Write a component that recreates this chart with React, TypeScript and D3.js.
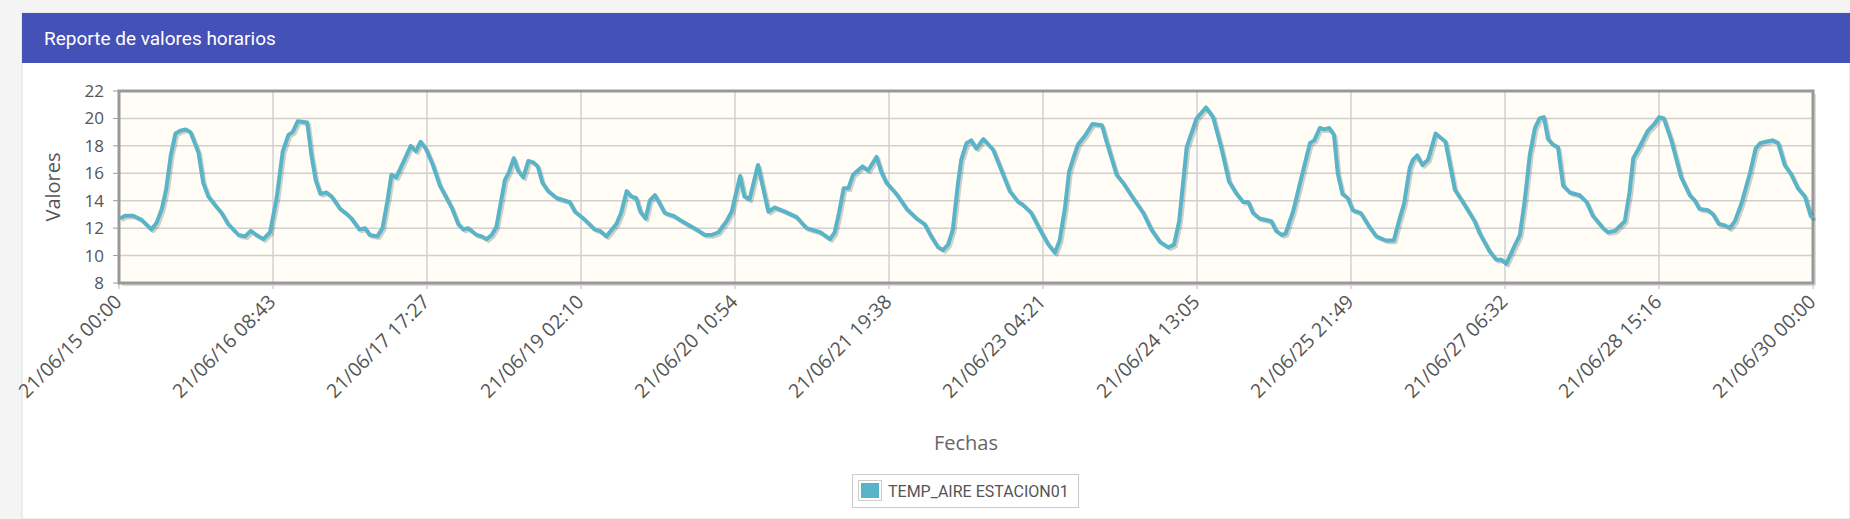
import React, { useEffect } from "react";
import * as d3 from "d3";

// hours since 21/06/15 00:00 and air temperature
const hours: number[] = [
  0.2, 1.3, 3, 4.8, 6.9, 8, 9.1, 10, 11, 12, 13, 14.2, 15.2, 16.9, 17.9, 19, 20.6, 21.8, 23.2, 25.4, 26.8, 28, 29.2, 30.7,
  32.1, 33.5, 34.8, 36, 36.9, 38, 40, 40.9, 41.8, 42.8, 44.1, 45.2, 47, 48.5, 49.4, 51.1, 52.3, 53.3, 54.9, 56, 57, 57.9,
  58.9, 60.4, 62, 63.1, 64.1, 65.2, 66.6, 68.2, 69.3, 70.7, 72.1, 73.2, 74.2, 76, 77.1, 78.1, 79.2, 80.2, 82, 82.9, 83.9,
  84.8, 85.9, 87, 88, 89, 90, 91.2, 93, 95.8, 96.9, 98.7, 101.1, 102.2, 103.6, 105.7, 106.7, 107.9, 108.9, 109.9, 110.8,
  111.9, 112.8, 113.9, 114.9, 116, 117.8, 119.2, 122.7, 124.5, 125.9, 127.4, 129.1, 130.2, 132, 132.9, 134, 135.8, 138,
  139.4, 141.5, 144, 146.1, 149, 151.1, 152.1, 153, 154, 155, 156, 158, 159.2, 161, 162, 163.1, 165.2, 167.4, 169.5,
  171.2, 172.6, 174.1, 175.1, 176.2, 177.2, 178.3, 179, 180.1, 181.1, 182.2, 183.7, 185.8, 187.9, 189.3, 191.1, 192.1,
  193.9, 195.7, 197.5, 198.9, 199.9, 201, 201.9, 202.9, 203.8, 205.2, 206.9, 208.9, 209.8, 212, 213.4, 215.5, 217.7,
  219.4, 221.2, 223, 224.2, 225.3, 226.9, 229, 231, 232.5, 234.3, 235.9, 237.5, 238.9, 240, 241, 242.4, 244.9, 245.9,
  247.1, 247.9, 249.5, 251.5, 253.1, 254, 255.2, 256.2, 257.2, 258.2, 259, 260, 261.1, 262.2, 263.9, 265.7, 267.2, 269.2,
  270.9, 272, 273.1, 274.3, 275, 275.9, 277, 278.2, 279.8, 281.9, 283.9, 285.6, 288.1, 289.2, 291.3, 292.7, 293.8, 294.8,
  296.3, 297.7, 298.7, 299.8, 300.9, 301.9, 302.8, 303.7, 304.7, 305.8, 306.9, 308.3, 310.4, 311.9, 313.2, 315.4, 316.4,
  317.9, 320, 321, 321.8, 323.1, 324.9, 326.3, 327.3, 328.3, 329.9, 332, 333.8, 334.9, 335.9, 337.7, 338.8, 340, 341.3,
  342.3, 343.4, 344.8, 346.6, 347.8, 348.8, 350, 351.4, 352.6, 354, 355.4, 356.8, 358.3, 359.5, 360,
];
const temps: number[] = [
  12.7, 12.9, 12.9, 12.6, 11.9, 12.4, 13.4, 14.8, 17.3, 18.9, 19.1, 19.2, 19.0, 17.5, 15.3, 14.3, 13.6, 13.1, 12.3, 11.5, 11.4, 11.8, 11.5, 11.2,
  11.7, 14.2, 17.6, 18.8, 19.0, 19.8, 19.7, 17.3, 15.5, 14.5, 14.6, 14.3, 13.4, 13.0, 12.7, 11.9, 12.0, 11.5, 11.4, 12.0, 13.9, 15.9,
  15.7, 16.8, 18.0, 17.6, 18.3, 17.8, 16.7, 15.1, 14.4, 13.5, 12.3, 11.9, 12.0, 11.5, 11.4, 11.2, 11.5, 12.1, 15.5, 16.1, 17.1,
  16.2, 15.7, 16.9, 16.8, 16.5, 15.3, 14.7, 14.2, 13.9, 13.2, 12.7, 11.9, 11.8, 11.4, 12.3, 13.1, 14.7, 14.3, 14.2, 13.2,
  12.7, 14.0, 14.4, 13.8, 13.1, 12.9, 12.6, 11.9, 11.5, 11.5, 11.7, 12.5, 13.2, 15.8, 14.3, 14.1, 16.6, 13.2,
  13.5, 13.2, 12.8, 12.0, 11.7, 11.2, 11.7, 13.1, 14.9, 14.9, 15.9, 16.5, 16.2, 17.2, 16.1, 15.3, 14.5, 13.4, 12.7,
  12.3, 11.4, 10.6, 10.4, 10.8, 11.9, 15.3, 17.0, 18.2, 18.4, 17.8, 18.5, 17.7, 15.9, 14.7, 13.9, 13.7,
  13.1, 11.9, 10.8, 10.2, 11.1, 13.4, 16.1, 17.2, 18.1, 18.7, 19.6, 19.5, 18.4, 15.9, 15.3, 14.2, 13.1,
  11.9, 11.0, 10.6, 10.8, 12.5, 17.9, 20.0, 20.8, 20.1, 17.8, 15.4, 14.5, 13.9, 13.9, 13.1, 12.7, 12.5, 11.8,
  11.5, 11.6, 13.2, 16.0, 18.2, 18.4, 19.3, 19.2, 19.3, 18.8, 16.0, 14.5, 14.2, 13.3, 13.1, 12.1, 11.4, 11.1,
  11.1, 12.5, 13.8, 16.4, 17.0, 17.3, 16.6, 17.0, 18.9, 18.3, 14.8, 13.9, 12.5, 11.6, 10.3, 9.7, 9.7, 9.4,
  10.5, 11.5, 13.9, 17.3, 19.3, 20.0, 20.1, 18.5, 18.1, 17.9, 15.1, 14.6, 14.4, 13.9, 12.9, 12.0, 11.7,
  11.8, 12.5, 14.6, 17.1, 17.9, 19.1, 19.6, 20.1, 20.0, 18.4, 15.7, 14.4, 14.0, 13.4, 13.3, 13.0, 12.3, 12.2,
  12.0, 12.5, 13.8, 16.0, 17.8, 18.2, 18.3, 18.4, 18.2, 16.6, 15.9, 14.9, 14.3, 12.9, 12.7,
];
const yTicks: number[] = [8, 10, 12, 14, 16, 18, 20, 22];
const xTickLabels: string[] = [
  "21/06/15 00:00", "21/06/16 08:43", "21/06/17 17:27", "21/06/19 02:10", "21/06/20 10:54", "21/06/21 19:38",
  "21/06/23 04:21", "21/06/24 13:05", "21/06/25 21:49", "21/06/27 06:32", "21/06/28 15:16", "21/06/30 00:00",
];
const seriesName = "TEMP_AIRE ESTACION01";

const W = 1850;
const H = 519;
const margin = { left: 119, right: 37, top: 91, bottom: 236 };
const font = "'Open Sans', 'Noto Sans', sans-serif";

const App: React.FC = () => {
  useEffect(() => {
    document.body.style.margin = "0";
  }, []);

  const x = d3.scaleLinear().domain([0, 360]).range([margin.left, W - margin.right]);
  const y = d3.scaleLinear().domain([8, 22]).range([H - margin.bottom, margin.top]);
  const pts = hours.map((h, i) => [h, temps[i]] as [number, number]);
  const line = d3
    .line<[number, number]>()
    .x((d) => x(d[0]))
    .y((d) => y(d[1]));
  const path = line(pts) ?? "";
  const step = 360 / (xTickLabels.length - 1);
  const pw = W - margin.left - margin.right;
  const ph = H - margin.top - margin.bottom;

  return (
    <svg width={W} height={H} style={{ display: "block", background: "#f4f4f4" }}>
      <rect x={22} y={13} width={W - 22} height={H - 13} fill="#fff" stroke="#ddd" />
      <rect x={22} y={13} width={W - 22} height={50} fill="#4451b6" />
      <text x={44} y={45} fill="#fff" fontFamily="Roboto, sans-serif" fontSize={19}>
        Reporte de valores horarios
      </text>

      <rect x={margin.left + 3} y={margin.top + 3} width={pw} height={ph} fill="#ddd" />
      <rect x={margin.left} y={margin.top} width={pw} height={ph} fill="#fffdf6" />
      {yTicks.map((t) => (
        <g key={t}>
          <line x1={margin.left} x2={W - margin.right} y1={y(t)} y2={y(t)} stroke="#d0d0d0" strokeWidth={1.5} />
          <line x1={margin.left - 6} x2={margin.left} y1={y(t)} y2={y(t)} stroke="#999" />
          <text x={104} y={y(t)} dy="0.35em" textAnchor="end" fill="#555" fontFamily={font} fontSize={17}>
            {t}
          </text>
        </g>
      ))}
      {xTickLabels.map((lab, i) => {
        const xx = x(i * step);
        return (
          <g key={lab}>
            <line x1={xx} x2={xx} y1={margin.top} y2={H - margin.bottom + 6} stroke="#d0d0d0" strokeWidth={1.5} />
            <text
              transform={`translate(${xx + 4},${H - margin.bottom + 20}) rotate(-45)`}
              textAnchor="end"
              fill="#555"
              fontFamily={font}
              fontSize={19.5}
            >
              {lab}
            </text>
          </g>
        );
      })}
      <rect x={margin.left} y={margin.top} width={pw} height={ph} fill="none" stroke="#999" strokeWidth={3} />

      <path d={path} fill="none" stroke="rgba(0,0,0,0.18)" strokeWidth={3.5} transform="translate(2,2)" strokeLinejoin="round" />
      <path d={path} fill="none" stroke="#5ab4c8" strokeWidth={4} strokeLinejoin="round" />

      <text
        transform={`translate(60,${margin.top + ph / 2}) rotate(-90)`}
        textAnchor="middle"
        fill="#555"
        fontFamily={font}
        fontSize={20}
      >
        Valores
      </text>
      <text x={966} y={450} textAnchor="middle" fill="#666" fontFamily={font} fontSize={20}>
        Fechas
      </text>

      <rect x={852.5} y={474.5} width={226} height={33} fill="#fff" stroke="#ccc" />
      <rect x={858.5} y={480.5} width={23} height={20} fill="#fff" stroke="#ccc" />
      <rect x={861} y={483} width={18} height={15} fill="#5ab4c8" />
      <text x={888} y={497} fill="#555" fontFamily="Roboto, sans-serif" fontSize={16}>
        {seriesName}
      </text>
    </svg>
  );
};

export default App;
